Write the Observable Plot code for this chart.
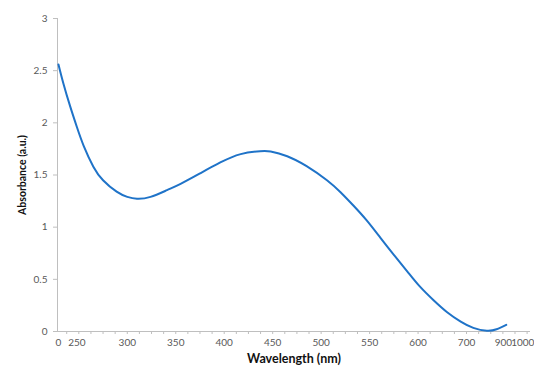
<!DOCTYPE html>
<html>
<head>
<meta charset="utf-8">
<script src="https://cdn.jsdelivr.net/npm/d3@7"></script>
<script src="https://cdn.jsdelivr.net/npm/@observablehq/plot@0.6"></script>
<style>
  html, body { margin: 0; padding: 0; background: #fff; }
  #chart svg { display: block; }
</style>
</head>
<body>
<div id="chart"></div>
<script>
// Spectrum readings (wavelength in nm, absorbance in a.u.)
const wavelength = [229, 234, 241, 248, 255, 265, 275, 289, 300, 310, 324, 341, 355, 375, 396, 417, 437, 448, 465, 485, 506, 520, 533, 547, 561, 575, 589, 602, 616, 630, 644, 657, 671, 681, 691];
const absorbance = [2.56, 2.38, 2.16, 1.96, 1.78, 1.58, 1.45, 1.34, 1.29, 1.272, 1.29, 1.355, 1.415, 1.515, 1.62, 1.70, 1.728, 1.725, 1.68, 1.585, 1.45, 1.335, 1.21, 1.065, 0.90, 0.735, 0.575, 0.43, 0.30, 0.185, 0.095, 0.035, 0.008, 0.022, 0.064];

// Axis ticks as printed on the original chart
const xTickValues = [229, 248, 300, 350, 400, 450, 500, 550, 600, 650, 688, 708];
const xTickLabels = ["0", "250", "300", "350", "400", "450", "500", "550", "600", "700", "900", "1000"];
const xMinorTicks = d3.range(237.5, 716, 12.5);
const yTickValues = [0, 0.5, 1, 1.5, 2, 2.5, 3];
const yTickLabels = ["0", "0.5", "1", "1.5", "2", "2.5", "3"];
const xTitle = "Wavelength (nm)";
const yTitle = "Absorbance (a.u.)";

const data = wavelength.map((w, i) => ({w, a: absorbance[i]}));
const xLabelMap = new Map(xTickValues.map((v, i) => [v, xTickLabels[i]]));
const yLabelMap = new Map(yTickValues.map((v, i) => [v, yTickLabels[i]]));

const axisGray = "#bfbfbf";
const textGray = "#595959";

const chart = Plot.plot({
  width: 534,
  height: 368,
  marginLeft: 57,
  marginRight: 4,
  marginTop: 18,
  marginBottom: 37,
  style: {fontFamily: "Lato, 'Open Sans', sans-serif", fontSize: "10px", color: textGray, background: "#fff"},
  x: {domain: [228, 716]},
  y: {domain: [0, 3]},
  marks: [
    Plot.axisX({ticks: xMinorTicks, tickSize: 3, stroke: axisGray, tickFormat: () => "", label: null}),
    Plot.axisX({ticks: xTickValues, tickSize: 0, tickPadding: 7, tickFormat: d => xLabelMap.get(d), fill: textGray, label: null, fontSize: 10}),
    Plot.axisY({ticks: yTickValues, tickSize: 4, tickPadding: 6, stroke: axisGray, tickFormat: d => yLabelMap.get(d), fill: textGray, label: null, fontSize: 10}),
    Plot.ruleY([0], {stroke: axisGray, strokeWidth: 1}),
    Plot.ruleX([228], {stroke: axisGray, strokeWidth: 1}),
    Plot.text([xTitle], {text: d => d, frameAnchor: "bottom", dy: 27, fontWeight: "bold", fontSize: 12.5, fill: "#111", lineAnchor: "middle", textAnchor: "middle"}),
    Plot.text([yTitle], {text: d => d, frameAnchor: "left", dx: -35, rotate: -90, fontWeight: "bold", fontSize: 10.5, fill: "#111", textAnchor: "middle", lineAnchor: "middle"}),
    Plot.line(data, {x: "w", y: "a", stroke: "#1f73c8", strokeWidth: 2, curve: "natural"})
  ]
});
document.getElementById("chart").appendChild(chart);
</script>
</body>
</html>
